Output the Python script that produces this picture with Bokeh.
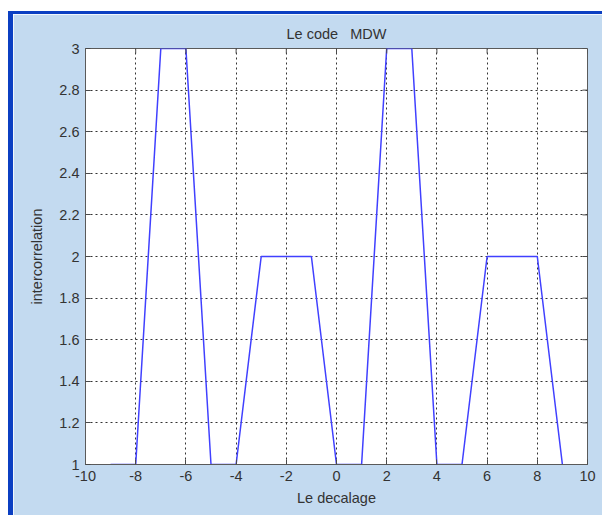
from bokeh.plotting import figure
from bokeh.models import FixedTicker, Range1d
from bokeh.embed import file_html
from bokeh.resources import INLINE

# cross-correlation of the MDW code against the shift
shifts = [-9, -8, -7, -6, -5, -4, -3, -2, -1, 0, 1, 2, 3, 4, 5, 6, 7, 8, 9]
corr = [1, 1, 3, 3, 1, 1, 2, 2, 2, 1, 1, 3, 3, 1, 1, 2, 2, 2, 1]

x_ticks = [-10, -8, -6, -4, -2, 0, 2, 4, 6, 8, 10]
x_tick_labels = ["-10", "-8", "-6", "-4", "-2", "0", "2", "4", "6", "8", "10"]
y_ticks = [1, 1.2, 1.4, 1.6, 1.8, 2, 2.2, 2.4, 2.6, 2.8, 3]
y_tick_labels = ["1", "1.2", "1.4", "1.6", "1.8", "2", "2.2", "2.4", "2.6", "2.8", "3"]

FONT = "Liberation Sans"
FS = "14.5px"
TEXT = "#333333"
FIG_BG = "#c3daf0"
EDGE = "#0b3fc2"

X_LO, X_HI = -10, 10
Y_LO, Y_HI = 1, 3

W, H = 594, 504
ML, MR, MT, MB = 72, 20, 34, 54

p = figure(width=W, height=H, output_backend="svg", toolbar_location=None,
           x_range=Range1d(X_LO, X_HI), y_range=Range1d(Y_LO, Y_HI),
           min_border_left=ML, min_border_right=MR,
           min_border_top=MT, min_border_bottom=MB)

# window chrome around the figure
p.styles = {
    "margin-left": "8px",
    "margin-top": "11px",
    "border-left": f"5px solid {EDGE}",
    "border-top": f"3px solid {EDGE}",
}

p.background_fill_color = "white"
p.border_fill_color = FIG_BG
p.outline_line_color = "#5a5a5a"
p.outline_line_width = 1

p.line(shifts, corr, line_color="#4040ff", line_width=1.5)

p.title.text = "Le code\u00a0\u00a0\u00a0MDW"
p.title.align = "center"
p.title.offset = -6
p.title.standoff = 14
p.title.text_font = FONT
p.title.text_font_size = FS
p.title.text_font_style = "normal"
p.title.text_color = TEXT

def style_axis(ax):
    ax.major_tick_in = 5
    ax.major_tick_out = 0
    ax.minor_tick_in = 0
    ax.minor_tick_out = 0
    ax.major_tick_line_color = "#4a4a4a"
    ax.axis_line_color = "#5a5a5a"
    ax.major_label_text_font = FONT
    ax.major_label_text_color = TEXT
    ax.major_label_text_font_size = FS
    ax.axis_label_text_font = FONT
    ax.axis_label_text_font_size = FS
    ax.axis_label_text_font_style = "normal"
    ax.axis_label_text_color = TEXT

xa = p.xaxis[0]
xa.ticker = FixedTicker(ticks=x_ticks)
xa.major_label_overrides = {t: s for t, s in zip(x_ticks, x_tick_labels)}
style_axis(xa)
xa.major_label_standoff = 6
xa.axis_label = "Le decalage"
xa.axis_label_standoff = 6

ya = p.yaxis[0]
ya.ticker = FixedTicker(ticks=y_ticks)
ya.major_label_overrides = {t: s for t, s in zip(y_ticks, y_tick_labels)}
style_axis(ya)
ya.major_label_standoff = 6
ya.axis_label = "intercorrelation"
ya.axis_label_standoff = 11

# inward tick marks on the top and right edges of the box
frame_w = W - ML - MR
frame_h = H - MT - MB
dx = (X_HI - X_LO) * 5 / frame_w
dy = (Y_HI - Y_LO) * 5 / frame_h
p.segment(x0=x_ticks, y0=[Y_HI] * len(x_ticks), x1=x_ticks,
          y1=[Y_HI - dy] * len(x_ticks), line_color="#4a4a4a", line_width=1)
p.segment(x0=[X_HI] * len(y_ticks), y0=y_ticks, x1=[X_HI - dx] * len(y_ticks),
          y1=y_ticks, line_color="#4a4a4a", line_width=1)

p.xgrid.ticker = FixedTicker(ticks=x_ticks)
p.ygrid.ticker = FixedTicker(ticks=y_ticks)
for g in (p.xgrid, p.ygrid):
    g.grid_line_color = "#333333"
    g.grid_line_dash = "2 3"
    g.grid_line_width = 1

open("out.html", "w").write(file_html(p, INLINE))
